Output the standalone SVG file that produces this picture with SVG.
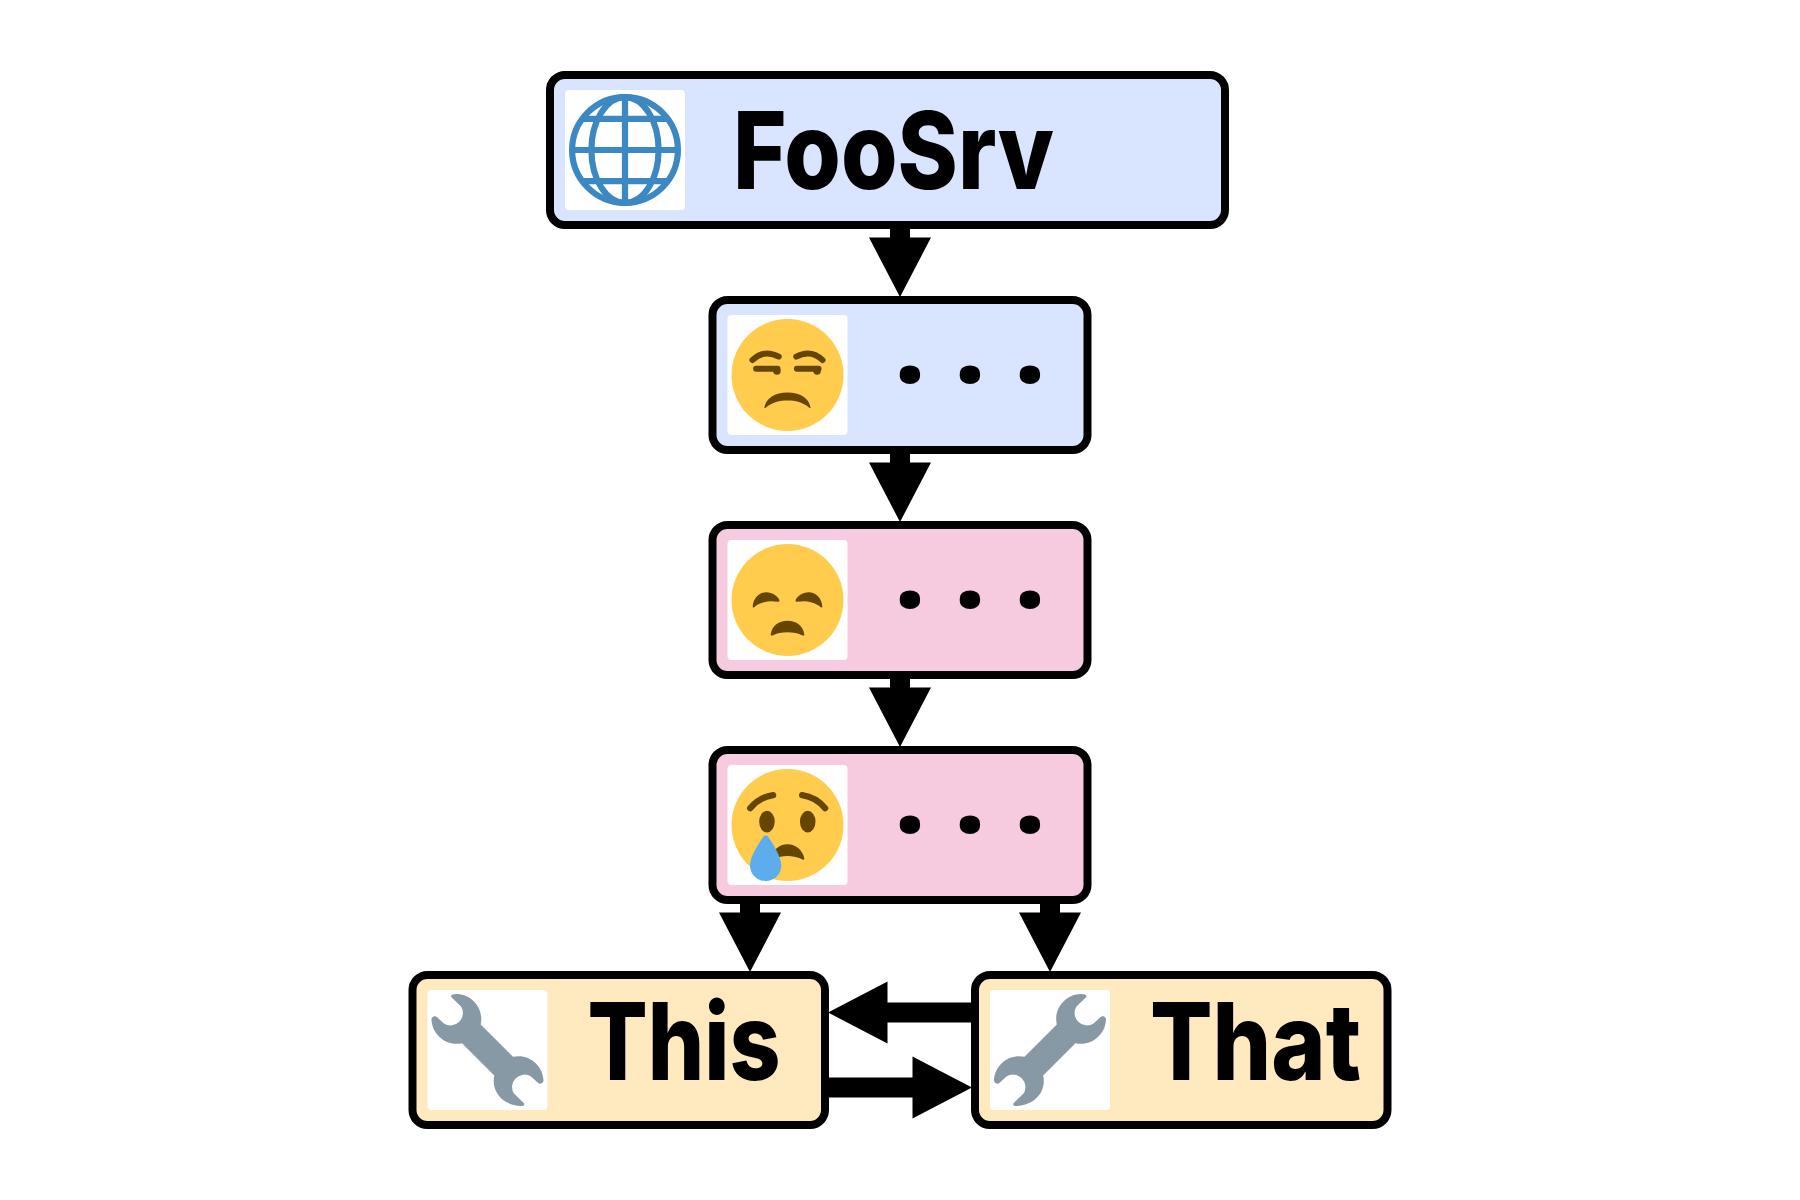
<svg xmlns="http://www.w3.org/2000/svg" width="1800" height="1200" viewBox="0 0 1800 1200">
<style>
.box{stroke:#000;stroke-width:8}
.blue{fill:#d9e4fe}.pink{fill:#f6cadf}.tan{fill:#ffe9bf}
.tile{fill:#fff}
.t{font-family:Inter,"Liberation Sans",sans-serif;font-weight:800;font-size:107px;fill:#000}
.d{font-family:"Noto Sans",sans-serif;font-weight:900;font-size:100px;fill:#000;text-anchor:middle}
.sk{fill:#ffcc4d}.f{fill:#664500}.l{fill:none;stroke:#664500;stroke-linecap:round}
.g{fill:none;stroke:#3b88c3;stroke-width:2}
.a{fill:#000}
</style>
<defs>
<path id="wrench" fill="#8899a6" d="M8.300 0C12.600 .2 16.020 3.800 16.020 8c0 .62-.08 1.220-.21 1.800L26.190 20.190c.58-.13 1.180-.21 1.800-.21C32.200 19.980 35.800 23.400 36 27.700c.05 1-1.100 1.500-1.800.8L32 26.500A4 4 0 0 0 26.500 32L29.500 34.900c.7.7.2 1.100-.8 1.100C23.400 35.800 19.980 32.200 19.980 28c0-.62.08-1.220.21-1.800L9.810 15.810c-.58.13-1.180.21-1.800.21C3.800 16.020 .2 12.600 0 8.300c-.05-1 1.100-1.500 1.800-.8L4 9.500A4 4 0 0 0 9.500 4L6.500 1.100C5.800 .4 6.900 0 8.300 0Z"/>
</defs>
<g id="connectors" class="a">
<path d="M890 225h20v12.500h21L900 297 869 237.500h21z"/>
<path d="M890 450h20v12.500h21L900 522 869 462.500h21z"/>
<path d="M890 675h20v12.500h21L900 747 869 687.500h21z"/>
<path d="M740 900h20v12.500h21L750 972 719 912.500h21z"/>
<path d="M1040 900h20v12.500h21L1050 972 1019 912.500h21z"/>
<path d="M975 1002.500v20H887.500v21L828 1012.500 887.500 981.500v21z"/>
<path d="M825 1077.500v20h87.500v21L972 1087.500 912.500 1056.500v21z"/>
</g>
<g id="foosrv">
<rect class="box blue" x="550" y="75" width="675" height="150" rx="15"/>
<rect class="tile" x="565" y="90" width="120" height="120" rx="4"/>
<g transform="translate(569 94) scale(3.1111)">
<circle class="g" cx="18" cy="18" r="17"/>
<ellipse class="g" cx="18" cy="18" rx="10.800" ry="17"/>
<path class="g" d="M18 1V35M1 18H35M4.500 8H31.500M4.500 28H31.500"/>
</g>
<text class="t" x="733" y="189" textLength="321" lengthAdjust="spacingAndGlyphs">FooSrv</text>
</g>
<g id="unamused">
<rect class="box blue" x="712.500" y="300" width="375" height="150" rx="15"/>
<rect class="tile" x="727.500" y="315" width="120" height="120" rx="4"/>
<g transform="translate(731.500 319) scale(3.1111)">
<circle class="sk" cx="18" cy="18" r="18"/>
<path class="l" stroke-width="1.900" d="M6.700 13.200Q10.500 9.600 15.200 12.100M20.800 12.100Q25.500 9.600 29.300 13.200"/>
<path class="l" stroke-width="1.900" d="M7.900 16H14.800M21 16H28"/>
<circle class="f" cx="14.600" cy="16.700" r="1.200"/><circle class="f" cx="27.500" cy="16.700" r="1.200"/>
<path class="f" d="M10.600 28.400C11 25.500 14 23.600 18 23.600C22 23.600 25 25.500 25.400 28.400C25.500 28.800 25.100 28.700 24.800 28.400C23 26.800 20.500 26.200 18 26.200C15.500 26.200 13 26.800 11.200 28.400C10.900 28.700 10.500 28.800 10.600 28.400Z"/>
</g>
<text class="d" x="910 970 1030" y="410">···</text>
</g>
<g id="disappointed">
<rect class="box pink" x="712.500" y="525" width="375" height="150" rx="15"/>
<rect class="tile" x="727.500" y="540" width="120" height="120" rx="4"/>
<g transform="translate(731.500 544) scale(3.1111)">
<circle class="sk" cx="18" cy="18" r="18"/>
<path class="f" d="M6.800 20.200C6.900 17.300 9 15.500 11.200 15.500C13.200 15.500 14.900 16.800 15.400 18C15.500 18.400 15.200 18.600 14.900 18.600C13.500 18.400 12 18.300 10.500 18.700C9 19.100 8 19.600 7.300 20.300C7.100 20.500 6.800 20.500 6.800 20.200Z"/>
<path class="f" transform="matrix(-1 0 0 1 36 0)" d="M6.800 20.200C6.900 17.300 9 15.500 11.200 15.500C13.200 15.500 14.900 16.800 15.400 18C15.500 18.400 15.200 18.600 14.900 18.600C13.500 18.400 12 18.300 10.500 18.700C9 19.100 8 19.600 7.300 20.300C7.100 20.500 6.800 20.500 6.800 20.200Z"/>
<path class="f" d="M12.600 29C13 26.300 15.200 24.700 18 24.700C20.800 24.700 23 26.300 23.400 29C23.500 29.400 23.100 29.500 22.800 29.400C21.500 28.800 19.800 28.400 18 28.400C16.200 28.400 14.500 28.800 13.200 29.400C12.900 29.500 12.500 29.400 12.600 29Z"/>
</g>
<text class="d" x="910 970 1030" y="635">···</text>
</g>
<g id="crying">
<rect class="box pink" x="712.500" y="750" width="375" height="150" rx="15"/>
<rect class="tile" x="727.500" y="765" width="120" height="120" rx="4"/>
<g transform="translate(731.500 769) scale(3.1111)">
<circle class="sk" cx="18" cy="18" r="18"/>
<path class="l" stroke-width="2" d="M6 12.600Q9 9 13.400 8.400M22.700 8.400Q27.100 9 30.100 12.600"/>
<ellipse class="f" cx="11.400" cy="16.900" rx="2.500" ry="3.500"/>
<ellipse class="f" cx="24.500" cy="16.900" rx="2.500" ry="3.500"/>
<path class="f" d="M12.600 29C13 26.200 15.300 24.200 18 24.200C20.700 24.200 23 26.200 23.400 28.800C23.500 29.200 23.100 29.200 22.800 29.100C21.500 28.400 19.800 28 18 28C16.200 28 14.500 28.400 13.200 29.300C12.900 29.500 12.500 29.400 12.600 29Z"/>
<path fill="#5dadec" d="M5.950 31C5.950 28 8.800 24 10.200 21.800C10.600 21.200 11.400 21.200 11.800 21.800C13.200 24 16 28 16 31C16 33.800 13.800 36 11 36C8.200 36 5.950 33.800 5.950 31Z"/>
</g>
<text class="d" x="910 970 1030" y="860">···</text>
</g>
<g id="this">
<rect class="box tan" x="412.500" y="975" width="412.500" height="150" rx="15"/>
<rect class="tile" x="427.500" y="990" width="120" height="120" rx="4"/>
<use href="#wrench" transform="translate(431.500 994) scale(3.1111)"/>
<text class="t" x="587.500" y="1080" textLength="193" lengthAdjust="spacingAndGlyphs">This</text>
</g>
<g id="that">
<rect class="box tan" x="975" y="975" width="412.500" height="150" rx="15"/>
<rect class="tile" x="990" y="990" width="120" height="120" rx="4"/>
<use href="#wrench" transform="translate(1106 994) scale(-3.1111 3.1111)"/>
<text class="t" x="1150" y="1080" textLength="211" lengthAdjust="spacingAndGlyphs">That</text>
</g>
</svg>
